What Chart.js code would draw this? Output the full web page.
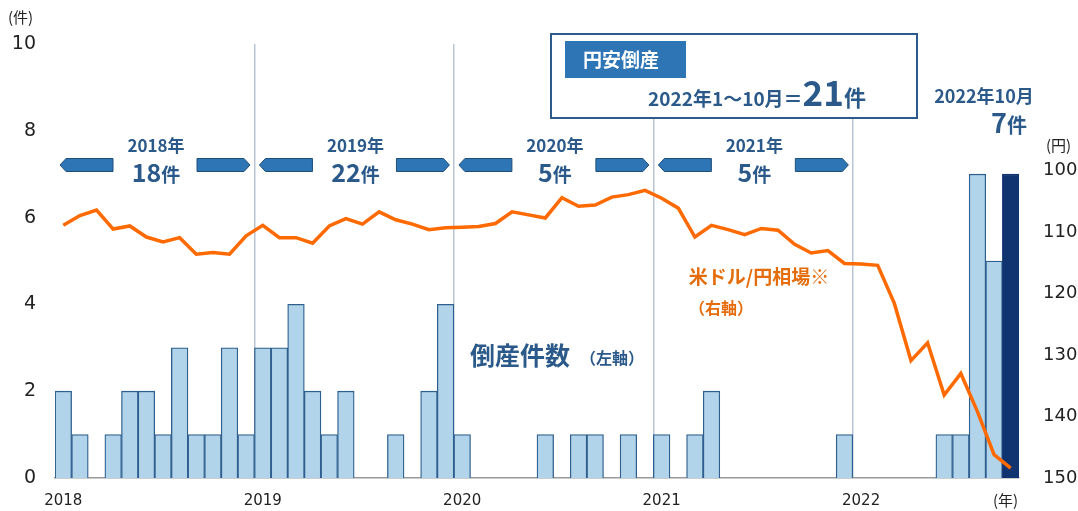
<!DOCTYPE html>
<html>
<head>
<meta charset="utf-8">
<script src="https://cdn.jsdelivr.net/npm/chart.js@4.4.0/dist/chart.umd.min.js"></script>
<style>
  body { margin: 0; background: #fff; }
  #wrap { width: 1078px; height: 511px; }
</style>
</head>
<body>
<div id="wrap"><canvas id="chart" width="1078" height="511"></canvas></div>
<script>
// monthly data, Jan 2018 - Oct 2022
const months = [];
for (let y = 2018; y <= 2022; y++) {
  for (let m = 1; m <= 12; m++) {
    if (y === 2022 && m > 10) break;
    months.push(y + '-' + m);
  }
}
const yearLabels = ['2018', '2019', '2020', '2021', '2022'];

// 倒産件数 (left axis)
const counts = [
  2, 1, 0, 1, 2, 2, 1, 3, 1, 1, 3, 1,
  3, 3, 4, 2, 1, 2, 0, 0, 1, 0, 2, 4,
  1, 0, 0, 0, 0, 1, 0, 1, 1, 0, 1, 0,
  1, 0, 1, 2, 0, 0, 0, 0, 0, 0, 0, 1,
  0, 0, 0, 0, 0, 1, 1, 7, 5, 7
];

// 米ドル/円相場 (right axis, reversed)
const usdJpy = [
  108.9, 107.3, 106.4, 109.5, 109.0, 110.8, 111.6, 110.9, 113.6, 113.3, 113.6, 110.6,
  108.9, 110.9, 110.9, 111.8, 109.0, 107.8, 108.7, 106.7, 108.0, 108.7, 109.6, 109.3,
  109.2, 109.1, 108.6, 106.7, 107.2, 107.7, 104.4, 105.8, 105.6, 104.3, 103.9, 103.2,
  104.5, 106.1, 110.8, 108.9, 109.6, 110.4, 109.4, 109.7, 112.0, 113.4, 113.0, 115.1,
  115.2, 115.4, 121.6, 130.9, 128.0, 136.5, 133.0, 139.2, 146.2, 148.4
];

const leftTicks = [0, 2, 4, 6, 8, 10];
const yenTicks = [100, 110, 120, 130, 140, 150];

// year summaries for the arrows
const summaryYears = ['2018年', '2019年', '2020年', '2021年'];
const summaryCounts = ['18', '22', '5', '5'];

const BLUE_TEXT = '#2b5a8a';
const ORANGE = '#ff6a00';
const JP = '"Noto Sans CJK JP", "Noto Sans", sans-serif';

function drawParts(ctx, parts, cx, cy, color) {
  // parts: [text, fontSize]; drawn side by side, centered at cx
  let total = 0;
  parts.forEach(p => { ctx.font = 'bold ' + p[1] + 'px ' + JP; p.w = ctx.measureText(p[0]).width; total += p.w; });
  let x = cx - total / 2;
  ctx.fillStyle = color;
  ctx.textAlign = 'left';
  ctx.textBaseline = 'alphabetic';
  parts.forEach(p => {
    ctx.font = 'bold ' + p[1] + 'px ' + JP;
    ctx.fillText(p[0], x, cy);
    x += p.w;
  });
}

function arrow(ctx, x0, x1, yc, h, dir) {
  const tip = 6;
  ctx.beginPath();
  if (dir < 0) {
    ctx.moveTo(x1, yc - h / 2);
    ctx.lineTo(x0 + tip, yc - h / 2);
    ctx.lineTo(x0, yc);
    ctx.lineTo(x0 + tip, yc + h / 2);
    ctx.lineTo(x1, yc + h / 2);
  } else {
    ctx.moveTo(x0, yc - h / 2);
    ctx.lineTo(x1 - tip, yc - h / 2);
    ctx.lineTo(x1, yc);
    ctx.lineTo(x1 - tip, yc + h / 2);
    ctx.lineTo(x0, yc + h / 2);
  }
  ctx.closePath();
  ctx.fillStyle = '#2e75b6';
  ctx.fill();
  ctx.strokeStyle = '#1f4e79';
  ctx.lineWidth = 1;
  ctx.stroke();
}

const annotations = {
  id: 'annotations',
  afterDraw(chart) {
    const ctx = chart.ctx;
    const area = chart.chartArea;
    const mw = (area.right - area.left) / months.length;
    ctx.save();

    // axis unit labels
    ctx.fillStyle = '#222';
    ctx.font = '15px ' + JP;
    ctx.textBaseline = 'middle';
    ctx.textAlign = 'left';
    ctx.fillText('(件)', 8, 17);
    ctx.fillText('(円)', 1046, 145);
    ctx.fillText('(年)', 993, 500);

    // year arrows
    summaryYears.forEach((label, k) => {
      const b = area.left + k * 12 * mw;
      arrow(ctx, b + 5, b + 58, 165, 13, -1);
      arrow(ctx, b + 142, b + 195, 165, 13, 1);
      drawParts(ctx, [[label, 17]], b + 101, 152, BLUE_TEXT);
      drawParts(ctx, [[summaryCounts[k], 25], ['件', 19]], b + 101, 182, BLUE_TEXT);
    });

    // 円安倒産 box
    ctx.fillStyle = '#fff';
    ctx.fillRect(551, 34, 366, 84);
    ctx.strokeStyle = '#2c5a8a';
    ctx.lineWidth = 2;
    ctx.strokeRect(551, 34, 366, 84);
    ctx.fillStyle = '#2e75b6';
    ctx.fillRect(565, 41, 121, 37);
    ctx.fillStyle = '#fff';
    ctx.font = 'bold 19px ' + JP;
    ctx.textAlign = 'left';
    ctx.textBaseline = 'middle';
    ctx.fillText('円安倒産', 583, 60);
    drawParts(ctx, [['2022年1～10月', 19], ['＝', 19], ['21', 35], ['件', 22]], 757, 106, BLUE_TEXT);

    // latest month
    drawParts(ctx, [['2022年10月', 18]], 984, 103, BLUE_TEXT);
    drawParts(ctx, [['7', 27], ['件', 20]], 1009, 133, BLUE_TEXT);

    // series labels
    drawParts(ctx, [['倒産件数', 25]], 520, 365, BLUE_TEXT);
    drawParts(ctx, [['（左軸）', 16]], 612, 364, BLUE_TEXT);
    drawParts(ctx, [['米ドル/円相場※', 19]], 759, 284, '#e46c0a');
    drawParts(ctx, [['（右軸）', 16]], 721, 314, '#e46c0a');

    ctx.restore();
  }
};

const ctx = document.getElementById('chart').getContext('2d');
new Chart(ctx, {
  data: {
    labels: months,
    datasets: [
      {
        type: 'line',
        label: '米ドル/円相場',
        data: usdJpy,
        yAxisID: 'y1',
        borderColor: ORANGE,
        borderWidth: 3.5,
        pointRadius: 0,
        tension: 0,
        order: 0
      },
      {
        type: 'bar',
        label: '倒産件数',
        data: counts,
        yAxisID: 'y',
        backgroundColor: counts.map((v, i) => i === counts.length - 1 ? '#0f3470' : '#b2d4ea'),
        borderColor: counts.map((v, i) => i === counts.length - 1 ? '#0f3470' : '#2e5f8e'),
        borderWidth: 1.3,
        barPercentage: 1,
        categoryPercentage: 1,
        order: 1
      }
    ]
  },
  options: {
    responsive: false,
    animation: false,
    layout: { padding: { top: 44 } },
    plugins: { legend: { display: false }, tooltip: { enabled: false } },
    scales: {
      x: {
        afterFit: s => { s.height = 33; },
        border: { display: true, color: '#9a9a9a', width: 1.5 },
        grid: {
          offset: true,
          drawTicks: false,
          lineWidth: 1.5,
          color: c => (c.index > 0 && c.index % 12 === 0 && c.index < months.length) ? '#b9c4d6' : 'rgba(0,0,0,0)'
        },
        ticks: {
          autoSkip: false,
          maxRotation: 0,
          padding: 14,
          color: '#222',
          font: { family: '"DejaVu Sans", sans-serif', size: 15 },
          callback: (v, i) => i % 12 === 0 ? yearLabels[i / 12] : ''
        }
      },
      y: {
        position: 'left',
        min: 0,
        max: 10,
        afterFit: s => { s.width = 55; },
        afterBuildTicks: s => { s.ticks = leftTicks.map(v => ({ value: v })); },
        grid: { display: false },
        border: { display: false },
        ticks: {
          padding: 11,
          color: '#222',
          font: { family: '"DejaVu Sans", sans-serif', size: 19 }
        }
      },
      y1: {
        position: 'right',
        reverse: true,
        min: 79.4,
        max: 150,
        afterFit: s => { s.width = 59; },
        afterBuildTicks: s => { s.ticks = yenTicks.map(v => ({ value: v })); },
        grid: { display: false },
        border: { display: false },
        ticks: {
          padding: 16,
          color: '#222',
          font: { family: '"DejaVu Sans", sans-serif', size: 18 }
        }
      }
    }
  },
  plugins: [annotations]
});
</script>
</body>
</html>
